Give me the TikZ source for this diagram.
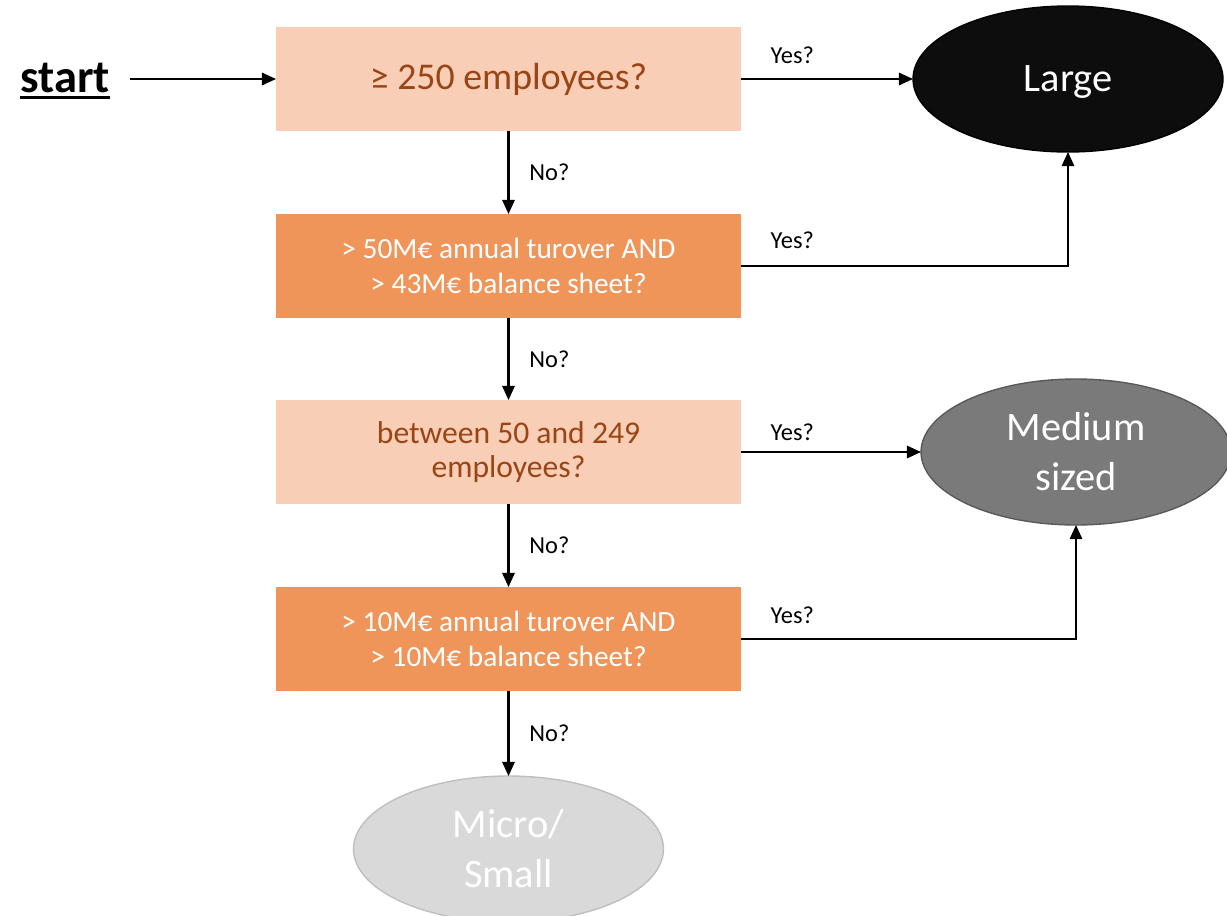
\documentclass[tikz,border=0pt]{standalone}
\usepackage{fontspec}
\setmainfont{Carlito}
\usepackage{xcolor}
\usetikzlibrary{shapes.geometric,arrows.meta}

\definecolor{peach}{HTML}{F8CFB6}
\definecolor{orng}{HTML}{F0955A}
\definecolor{brwn}{HTML}{9A4516}
\definecolor{midgray}{HTML}{7A7A7A}
\definecolor{ltgray}{HTML}{D9D9D9}

\newcommand{\thickul}[1]{\leavevmode\vtop{\hbox{#1}\kern2pt\hrule height 1.6pt}}

\tikzset{
  qbox/.style={rectangle, minimum width=9.3cm, minimum height=2.08cm, align=center, outer sep=0pt},
  lightq/.style={qbox, fill=peach, text=brwn},
  darkq/.style={qbox, fill=orng, text=white, font=\fontsize{16.7}{19.8}\selectfont},
  sizeoval/.style={ellipse, minimum width=6.2cm, minimum height=2.92cm, align=center, outer sep=0pt, line width=0.8pt, text=white, font=\fontsize{23}{28.5}\selectfont},
  arr/.style={-{Triangle[length=8pt,width=7pt]}, line width=1.2pt},
  lbl/.style={font=\fontsize{13.9}{16}\selectfont},
  yes/.style={lbl, pos=0, anchor=south west, xshift=13pt, yshift=5pt}
}

\begin{document}
\begin{tikzpicture}[x=0.02cm,y=-0.02cm]
  \useasboundingbox (0,0) rectangle (1227,916);

  \node[font=\fontsize{26.5}{30}\bfseries] (start) at (65,81) {\thickul{start}};

  \node[lightq, font=\fontsize{21.5}{25}\selectfont] (q1) at (508.5,79) {≥ 250 employees?};
  \node[darkq] (q2) at (508.5,266) {> 50M€ annual turover AND\\> 43M€ balance sheet?};
  \node[lightq, font=\fontsize{18}{19.8}\selectfont] (q3) at (508.5,452) {between 50 and 249\\employees?};
  \node[darkq] (q4) at (508.5,639) {> 10M€ annual turover AND\\> 10M€ balance sheet?};

  \node[sizeoval, fill=black!95, draw=black, text depth=0pt] (large) at (1068,79) {Large};
  \node[sizeoval, fill=midgray, draw=black!65] (medium) at (1076,452) {Medium\\sized};
  \node[sizeoval, fill=ltgray, draw=black!25] (small) at (508.5,849) {Micro/\\Small};

  \draw[arr, shorten <=8pt] (start.east |- q1) -- (q1);

  \draw[arr] (q1) -- node[lbl, right=8pt] {No?} (q2);
  \draw[arr] (q2) -- node[lbl, right=8pt] {No?} (q3);
  \draw[arr] (q3) -- node[lbl, right=8pt] {No?} (q4);
  \draw[arr] (q4) -- node[lbl, right=8pt] {No?} (small);

  \draw[arr] (q1) -- node[yes] {Yes?} (large);
  \draw[arr] (q2.east) -| node[yes, yshift=1pt] {Yes?} (large.south);
  \draw[arr] (q3) -- node[yes, yshift=-2.5pt] {Yes?} (medium);
  \draw[arr] (q4.east) -| node[yes] {Yes?} (medium.south);
\end{tikzpicture}
\end{document}
